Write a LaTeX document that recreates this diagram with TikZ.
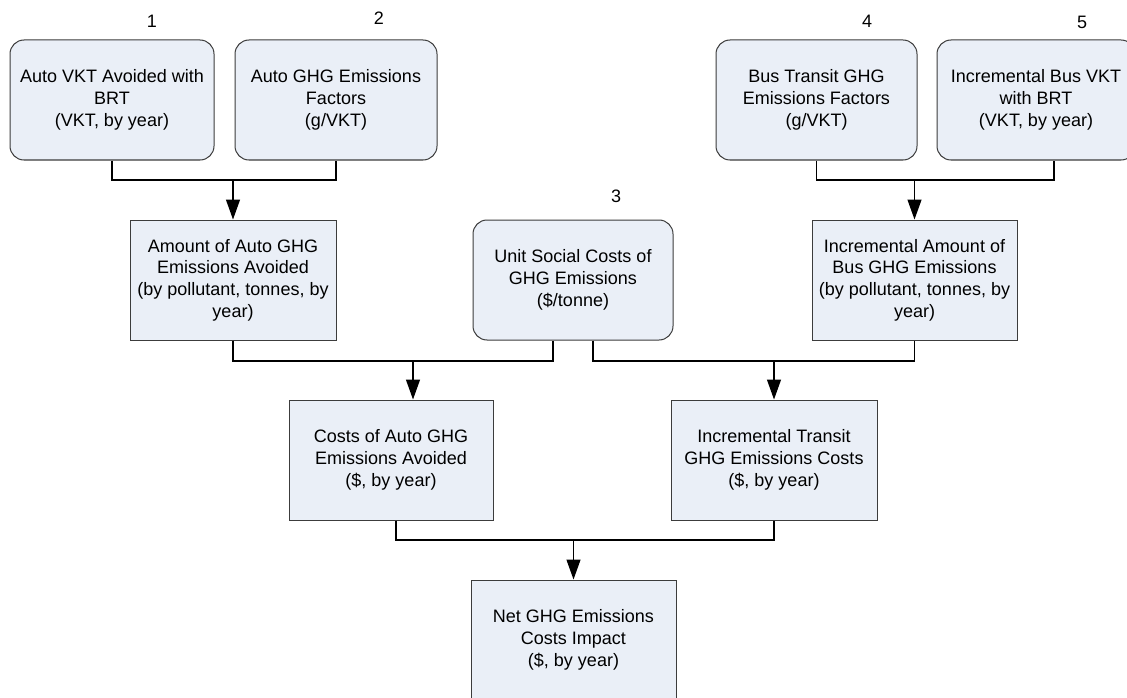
\documentclass[tikz,border=0pt]{standalone}
\usepackage{fontspec}
\setmainfont{Liberation Sans}
\usetikzlibrary{arrows.meta}
\definecolor{boxfill}{RGB}{234,239,247}
\definecolor{boxline}{RGB}{60,60,60}
\tikzset{
  base/.style={draw=boxline, line width=1pt, fill=boxfill, align=center,
    minimum height=120pt, inner sep=2pt,
    font=\fontsize{18}{21.7}\selectfont},
  inputbox/.style={base, rounded corners=14pt},
  calcbox/.style={base},
  num/.style={font=\fontsize{18}{21.7}\selectfont, inner sep=0pt},
  link/.style={draw=black, line width=1.3pt},
  arr/.style={link, -{Triangle[length=20pt,width=14pt]}},
}
\begin{document}
\begin{tikzpicture}[x=1pt, y=-1pt]
\clip (0,0) rectangle (1127,698);
\fill[white] (0,0) rectangle (1127,698);

% inputs (rounded)
\node[inputbox, minimum width=204pt] (vkt)   at (112,100)   {Auto VKT Avoided with\\BRT\\(VKT, by year)};
\node[inputbox, minimum width=202pt] (aef)   at (336,100)   {Auto GHG Emissions\\Factors\\(g/VKT)};
\node[inputbox, minimum width=200pt] (unit)  at (573,280)   {Unit Social Costs of\\GHG Emissions\\(\$/tonne)};
\node[inputbox, minimum width=201pt] (bef)   at (816.5,100) {Bus Transit GHG\\Emissions Factors\\(g/VKT)};
\node[inputbox, minimum width=198pt] (bvkt)  at (1036,100)  {Incremental Bus VKT\\with BRT\\(VKT, by year)};

% input numbers
\node[num] (n1) at (152,21)  {1};
\node[num] (n2) at (379,18)  {2};
\node[num] (n3) at (616,196) {3};
\node[num] (n4) at (867,21)  {4};
\node[num] (n5) at (1082,22) {5};

% calculated quantities
\node[calcbox, minimum width=206pt] (amt)     at (233,280)   {Amount of Auto GHG\\Emissions Avoided\\(by pollutant, tonnes, by\\year)};
\node[calcbox, minimum width=205pt] (incamt)  at (914.5,280) {Incremental Amount of\\Bus GHG Emissions\\(by pollutant, tonnes, by\\year)};
\node[calcbox, minimum width=204pt] (costs)   at (391,460)   {Costs of Auto GHG\\Emissions Avoided\\(\$, by year)};
\node[calcbox, minimum width=206pt] (transit) at (774,460)   {Incremental Transit\\GHG Emissions Costs\\(\$, by year)};
\node[calcbox, minimum width=205pt] (net)     at (573.5,640) {Net GHG Emissions\\Costs Impact\\(\$, by year)};

% junction points on the buses
\coordinate (j1) at (233,180);
\coordinate (j2) at (914.5,180);
\coordinate (j3) at (413,361);
\coordinate (j4) at (774,361);
\coordinate (j5) at (573.5,540);

% connectors
\draw[link] (vkt.south) |- (j1) -| (aef.south);
\draw[arr]  (j1) -- (amt.north);

\draw[link] (bef.south) |- (j2) -| ([xshift=18pt]bvkt.south);
\draw[arr]  (j2) -- (incamt.north);

\draw[link] (amt.south) |- (j3) -| ([xshift=-20pt]unit.south);
\draw[arr]  (j3) -- (j3 |- costs.north);

\draw[link] ([xshift=20pt]unit.south) |- (j4) -| (incamt.south);
\draw[arr]  (j4) -- (transit.north);

\draw[link] ([xshift=5pt]costs.south) |- (j5) -| (transit.south);
\draw[arr]  (j5) -- (net.north);
\end{tikzpicture}
\end{document}
